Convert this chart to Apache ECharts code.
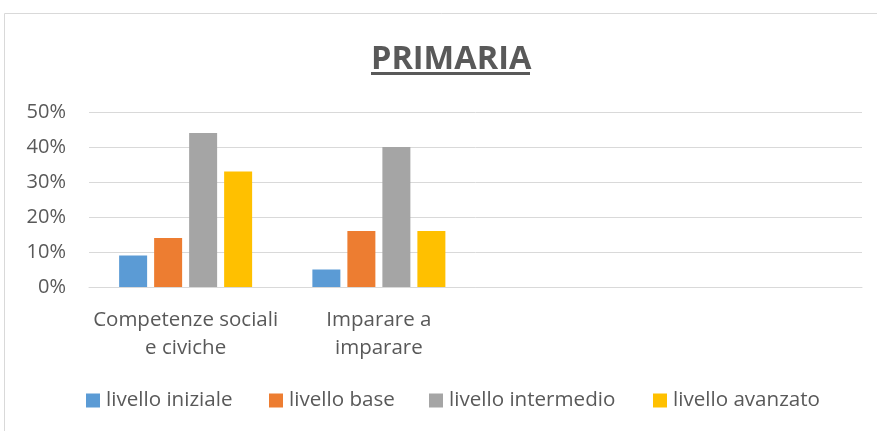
<!DOCTYPE html>
<html>
<head>
<meta charset="utf-8">
<script src="https://cdn.jsdelivr.net/npm/echarts@6/dist/echarts.min.js"></script>
<style>
  html, body { margin: 0; padding: 0; background: #fff; }
  #chart { width: 877px; height: 431px; }
</style>
</head>
<body>
<div id="chart"></div>
<script>
  // categorie (le ultime due sono vuote come nel grafico originale)
  var categories = ['Competenze sociali\ne civiche', 'Imparare a\nimparare', '', ''];
  var seriesNames = ['livello iniziale', 'livello base', 'livello intermedio', 'livello avanzato'];
  var iniziale = [9, 5, null, null];
  var base = [14, 16, null, null];
  var intermedio = [44, 40, null, null];
  var avanzato = [33, 16, null, null];
  var colors = ['#5B9BD5', '#ED7D31', '#A5A5A5', '#FFC000'];

  var font = '"Open Sans", sans-serif';
  var textColor = '#595959';
  var chart = echarts.init(document.getElementById('chart'));

  var values = [iniziale, base, intermedio, avanzato];
  var series = seriesNames.map(function (name, i) {
    return {
      name: name,
      type: 'bar',
      data: values[i],
      barWidth: 28,
      barGap: '25%',
      itemStyle: { color: colors[i] }
    };
  });

  // una legenda per voce, per tenere le posizioni dell'originale
  var legendLeft = [86, 269, 429, 653];
  var legends = seriesNames.map(function (name, i) {
    return {
      top: 390,
      left: legendLeft[i],
      padding: 0,
      itemWidth: 14,
      itemHeight: 14,
      icon: 'rect',
      textStyle: { fontFamily: font, fontSize: 20.6, color: textColor, padding: [0, 0, 0, 1] },
      data: [name]
    };
  });

  chart.setOption({
    animation: false,
    title: {
      text: 'PRIMARIA',
      left: 366,
      top: 38,
      textStyle: {
        fontFamily: font,
        fontSize: 32.5,
        fontWeight: 'bold',
        color: textColor
      }
    },
    graphic: [
      // cornice del grafico
      {
        type: 'rect',
        shape: { x: 4.5, y: 13.5, width: 900, height: 500 },
        style: { fill: null, stroke: '#d9d9d9', lineWidth: 1 },
        silent: true
      },
      // sottolineatura titolo
      {
        type: 'rect',
        shape: { x: 371, y: 72, width: 159, height: 3 },
        style: { fill: textColor },
        silent: true
      }
    ],
    legend: legends,
    grid: { left: 89, right: 15, top: 112, bottom: 144 },
    xAxis: {
      type: 'category',
      data: categories,
      axisLine: { lineStyle: { color: '#d9d9d9' } },
      axisTick: { show: false },
      axisLabel: {
        fontFamily: font,
        fontSize: 20.5,
        color: textColor,
        lineHeight: 28,
        margin: 19,
        interval: 0
      }
    },
    yAxis: {
      type: 'value',
      min: 0,
      max: 50,
      interval: 10,
      axisLine: { show: false },
      axisTick: { show: false },
      splitLine: { lineStyle: { color: '#d9d9d9', width: 1 } },
      axisLabel: {
        fontFamily: font,
        fontSize: 20,
        color: textColor,
        margin: 23,
        formatter: '{value}%'
      }
    },
    series: series
  });
</script>
</body>
</html>
